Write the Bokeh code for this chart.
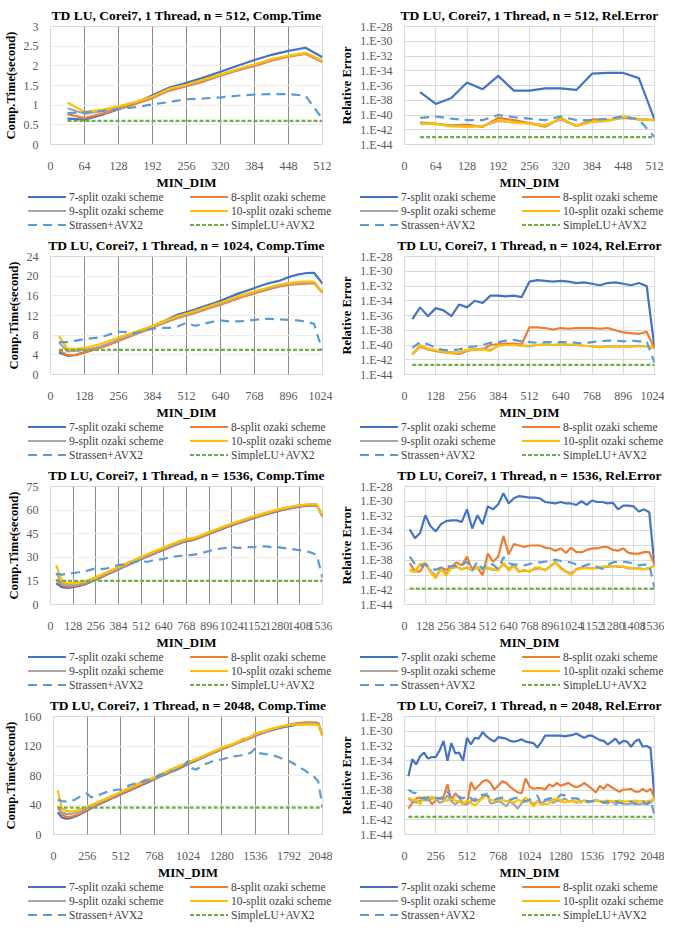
import numpy as np
from bokeh.plotting import figure
from bokeh.layouts import column, row
from bokeh.models import Range1d, SingleIntervalTicker, FixedTicker, CustomJSTickFormatter, Div
from bokeh.embed import file_html
from bokeh.resources import INLINE

FONT = "Liberation Serif"
LABELS = ["7-split ozaki scheme", "8-split ozaki scheme", "9-split ozaki scheme",
          "10-split ozaki scheme", "Strassen+AVX2", "SimpleLU+AVX2"]
COLORS = ["#4472C4", "#ED7D31", "#A5A5A5", "#FFC000", "#5B9BD5", "#70AD47"]
DASHES = ["solid", "solid", "solid", "solid", "9 6", "4 2"]

# ---------------- n = 512 ----------------
X512 = list(range(32, 513, 32))
T512_7 = [0.66, 0.63, 0.75, 0.90, 1.05, 1.25, 1.45, 1.57, 1.70, 1.85, 2.00, 2.15, 2.28, 2.38, 2.46, 2.22]
T512_8 = [0.77, 0.67, 0.78, 0.90, 1.03, 1.18, 1.37, 1.48, 1.60, 1.75, 1.88, 2.00, 2.13, 2.23, 2.30, 2.10]
T512_9 = [0.92, 0.78, 0.85, 0.95, 1.07, 1.20, 1.40, 1.50, 1.63, 1.77, 1.90, 2.02, 2.15, 2.25, 2.32, 2.12]
T512_10 = [1.07, 0.83, 0.88, 0.97, 1.08, 1.22, 1.42, 1.52, 1.65, 1.78, 1.92, 2.04, 2.17, 2.26, 2.33, 2.13]
T512_S = [0.80, 0.82, 0.85, 0.90, 0.95, 1.02, 1.08, 1.15, 1.17, 1.20, 1.24, 1.27, 1.28, 1.28, 1.24, 0.65]
T512_L = [0.60] * len(X512)

# relative error, as exponent of 10
E512_7 = [-36.9, -38.5, -37.7, -35.6, -36.5, -34.7, -36.7, -36.7, -36.4, -36.4, -36.6, -34.4, -34.3, -34.3, -35.0, -40.6]
E512_8 = [-41.0, -41.2, -41.4, -41.3, -41.6, -40.4, -40.7, -41.1, -41.6, -40.4, -41.5, -40.6, -40.7, -40.4, -40.6, -40.7]
E512_9 = [-41.1, -41.2, -41.5, -41.5, -41.5, -40.8, -41.0, -41.1, -41.4, -40.6, -41.5, -40.9, -40.8, -40.3, -40.6, -40.7]
E512_10 = [-41.2, -41.2, -41.5, -41.6, -41.5, -40.7, -41.0, -41.2, -41.4, -40.5, -41.5, -40.9, -40.8, -40.2, -40.6, -40.7]
E512_S = [-40.4, -40.2, -40.5, -40.7, -40.7, -40.0, -40.3, -40.5, -40.7, -40.2, -40.7, -40.7, -40.5, -40.2, -40.6, -43.0]
E512_L = [-43.0] * len(X512)

# ---------------- n = 1024 ----------------
X1024 = list(range(32, 1025, 32))
T1024_7 = [4.5, 3.8, 4.0, 4.5, 5.0, 5.6, 6.3, 7.0, 7.7, 8.4, 9.1, 9.8, 10.6, 11.4, 12.2, 12.7,
           13.2, 13.8, 14.4, 15.0, 15.7, 16.4, 17.0, 17.6, 18.2, 18.7, 19.1, 19.8, 20.3, 20.6, 20.7, 18.5]
T1024_8 = [4.9, 3.9, 4.0, 4.5, 5.0, 5.5, 6.1, 6.8, 7.5, 8.2, 8.8, 9.5, 10.2, 10.9, 11.5, 12.0,
           12.5, 13.1, 13.7, 14.2, 14.8, 15.4, 16.0, 16.5, 17.0, 17.5, 17.9, 18.2, 18.4, 18.5, 18.6, 16.6]
T1024_9 = [6.5, 4.7, 4.8, 5.0, 5.3, 5.8, 6.4, 7.0, 7.7, 8.4, 9.0, 9.7, 10.4, 11.1, 11.7, 12.2,
           12.7, 13.3, 13.9, 14.4, 15.0, 15.6, 16.2, 16.7, 17.2, 17.7, 18.1, 18.4, 18.6, 18.7, 18.8, 16.7]
T1024_10 = [7.8, 5.2, 5.2, 5.4, 5.8, 6.3, 6.9, 7.5, 8.1, 8.7, 9.3, 9.9, 10.6, 11.3, 11.9, 12.4,
            12.9, 13.5, 14.1, 14.6, 15.2, 15.8, 16.4, 16.9, 17.4, 17.9, 18.3, 18.6, 18.8, 18.9, 18.9, 16.8]
T1024_S = [6.6, 6.6, 6.9, 7.2, 7.4, 7.6, 8.2, 8.7, 8.6, 8.4, 8.9, 9.3, 9.5, 9.5, 9.8, 10.5,
           9.9, 10.3, 10.7, 11.0, 10.8, 10.8, 10.9, 11.1, 11.3, 11.3, 11.2, 11.1, 11.0, 10.8, 10.3, 4.8]
T1024_L = [5.0] * len(X1024)

E1024_7 = [-36.5, -34.9, -36.1, -35.0, -35.3, -36.1, -34.5, -34.9, -34.0, -34.3, -33.3, -33.3, -33.4, -33.3, -33.5, -31.4,
           -31.2, -31.3, -31.4, -31.3, -31.4, -31.6, -31.5, -31.7, -31.9, -31.6, -31.5, -31.7, -31.9, -31.6, -32.0, -40.4]
E1024_8 = [-41.3, -40.2, -40.6, -40.8, -41.0, -41.1, -41.2, -40.8, -40.6, -40.6, -40.0, -39.9, -39.8, -39.8, -39.9, -37.6,
           -37.6, -37.7, -37.9, -37.7, -37.8, -37.7, -37.7, -37.7, -37.8, -37.7, -38.0, -38.3, -38.4, -38.5, -38.2, -40.5]
E1024_9 = [-41.2, -40.1, -40.5, -40.8, -40.9, -41.0, -41.0, -40.7, -40.6, -40.5, -40.7, -40.1, -40.0, -40.0, -40.1, -40.2,
           -40.0, -39.9, -40.0, -39.9, -40.0, -40.0, -40.1, -40.2, -40.3, -40.2, -40.2, -40.2, -40.2, -40.1, -40.2, -40.4]
E1024_10 = [-41.3, -40.0, -40.5, -40.7, -40.9, -41.1, -41.0, -40.7, -40.6, -40.6, -40.8, -40.1, -40.0, -40.0, -40.1, -40.1,
            -40.0, -39.9, -40.0, -39.9, -39.9, -40.0, -40.1, -40.2, -40.3, -40.2, -40.2, -40.2, -40.2, -40.2, -40.2, -40.4]
E1024_S = [-40.4, -39.6, -39.9, -40.4, -40.7, -40.7, -40.6, -40.3, -40.2, -40.0, -39.7, -39.6, -39.4, -39.3, -39.5, -39.6,
           -39.7, -39.6, -39.6, -39.6, -39.6, -39.7, -39.8, -39.6, -39.5, -39.4, -39.4, -39.5, -39.4, -39.5, -39.5, -42.4]
E1024_L = [-42.7] * len(X1024)

# ---------------- n = 1536 ----------------
X1536 = list(range(32, 1537, 32))
T1536_7 = [13.5, 11.0, 10.6, 11.0, 11.8, 12.8, 14.2, 15.8, 17.4, 19.0, 20.6, 22.3, 24.0, 25.6, 27.2, 28.8,
           30.3, 31.8, 33.3, 34.8, 36.3, 37.7, 39.1, 40.2, 40.8, 42.0, 43.4, 44.8, 46.2, 47.6, 49.0, 50.3,
           51.5, 52.7, 53.9, 55.0, 56.1, 57.2, 58.2, 59.2, 60.1, 60.9, 61.6, 62.2, 62.6, 62.9, 63.0, 56.0]
T1536_8 = [16.0, 12.2, 11.3, 11.6, 12.3, 13.3, 14.6, 16.2, 17.8, 19.4, 21.0, 22.6, 24.3, 25.9, 27.5, 29.1,
           30.6, 32.1, 33.6, 35.1, 36.6, 38.0, 39.4, 40.5, 41.1, 42.3, 43.7, 45.1, 46.5, 47.9, 49.3, 50.6,
           51.8, 53.0, 54.2, 55.3, 56.4, 57.5, 58.5, 59.5, 60.4, 61.2, 61.9, 62.5, 62.9, 63.2, 63.3, 56.3]
T1536_9 = [20.0, 13.5, 12.3, 12.4, 13.0, 13.9, 15.2, 16.7, 18.3, 19.9, 21.5, 23.1, 24.8, 26.4, 28.0, 29.6,
           31.1, 32.6, 34.1, 35.6, 37.1, 38.5, 39.9, 41.0, 41.6, 42.8, 44.2, 45.6, 47.0, 48.4, 49.8, 51.1,
           52.3, 53.5, 54.7, 55.8, 56.9, 58.0, 59.0, 60.0, 60.9, 61.7, 62.4, 63.0, 63.4, 63.6, 63.6, 56.5]
T1536_10 = [25.0, 15.2, 13.5, 13.5, 14.0, 14.8, 16.0, 17.4, 19.0, 20.6, 22.2, 23.8, 25.5, 27.1, 28.7, 30.3,
            31.8, 33.3, 34.8, 36.3, 37.8, 39.2, 40.6, 41.6, 42.0, 43.2, 44.6, 46.0, 47.4, 48.8, 50.2, 51.5,
            52.7, 53.9, 55.1, 56.2, 57.3, 58.3, 59.3, 60.3, 61.1, 61.9, 62.6, 63.1, 63.5, 63.7, 63.7, 56.7]
T1536_S = [19.5, 19.0, 19.5, 20.0, 20.5, 21.0, 22.0, 23.0, 22.5, 23.0, 24.0, 25.0, 25.5, 26.0, 27.0, 28.0,
           27.0, 28.0, 28.5, 29.0, 30.0, 30.5, 31.0, 31.0, 31.5, 32.0, 33.0, 34.0, 35.0, 35.5, 36.0, 36.5,
           36.0, 36.0, 36.5, 36.5, 37.0, 37.0, 36.5, 36.5, 36.0, 35.5, 35.0, 34.5, 34.0, 33.0, 31.5, 17.0]
T1536_L = [15.0] * len(X1536)

E1536_7 = [-33.8, -35.0, -34.3, -31.9, -33.4, -34.1, -33.1, -32.7, -32.6, -32.6, -32.8, -31.1, -33.7, -31.9, -33.1, -30.7,
           -31.1, -30.4, -28.9, -30.3, -29.6, -29.3, -29.4, -29.5, -29.5, -29.6, -30.1, -30.2, -30.3, -30.1, -30.3, -30.3,
           -30.5, -30.0, -30.5, -29.9, -30.1, -30.1, -30.3, -30.2, -31.1, -30.6, -30.6, -30.7, -31.4, -31.1, -31.5, -38.7]
E1536_8 = [-38.4, -39.5, -39.5, -38.4, -39.6, -40.4, -39.0, -39.3, -38.9, -38.3, -38.7, -37.5, -39.3, -39.0, -40.0, -37.1,
           -38.2, -37.5, -34.7, -37.2, -35.8, -36.0, -36.2, -36.0, -36.0, -36.0, -36.3, -36.4, -36.7, -36.4, -37.0, -36.3,
           -36.9, -36.9, -36.6, -36.4, -36.4, -36.2, -36.2, -36.6, -36.7, -36.4, -37.0, -37.1, -37.1, -36.9, -36.9, -38.6]
E1536_9 = [-39.3, -39.5, -38.6, -38.5, -39.4, -40.2, -39.1, -39.8, -39.1, -38.9, -39.2, -39.0, -39.4, -38.9, -39.2, -39.1,
           -39.3, -39.2, -38.5, -39.2, -38.6, -39.5, -39.4, -39.5, -39.2, -39.1, -39.3, -38.8, -38.2, -39.0, -39.5, -39.8,
           -39.2, -39.0, -39.0, -39.1, -39.0, -38.9, -38.9, -38.8, -38.9, -38.9, -39.1, -39.1, -39.1, -39.2, -39.1, -38.7]
E1536_10 = [-39.4, -39.6, -38.5, -38.4, -39.6, -40.4, -39.2, -40.1, -39.0, -38.8, -39.3, -38.9, -39.3, -39.0, -39.1, -39.0,
            -39.2, -39.4, -38.3, -39.4, -38.8, -39.6, -39.3, -39.6, -39.0, -39.0, -39.4, -38.9, -38.3, -39.2, -39.6, -40.0,
            -39.3, -39.1, -39.1, -39.1, -39.1, -38.9, -38.8, -38.8, -38.8, -38.9, -39.0, -39.1, -39.2, -39.2, -39.1, -38.7]
E1536_S = [-37.5, -38.5, -38.8, -38.5, -39.1, -39.3, -39.0, -38.9, -38.8, -38.8, -38.7, -38.2, -39.3, -38.2, -39.2, -38.4,
           -38.6, -39.2, -37.6, -38.4, -38.6, -38.6, -38.7, -38.5, -38.4, -38.3, -38.2, -38.1, -37.9, -38.1, -38.2, -38.3,
           -38.6, -38.9, -38.6, -38.5, -38.9, -39.2, -38.6, -38.3, -38.2, -38.2, -38.3, -38.5, -38.7, -38.6, -38.6, -41.8]
E1536_L = [-41.85] * len(X1536)

# ---------------- n = 2048 ----------------
X2048 = list(range(32, 2049, 32))
T2048_7 = [30.0, 23.0, 21.5, 22.0, 24.0, 26.5, 29.5, 32.5, 35.5, 38.5, 41.5, 44.0, 46.5, 49.0, 51.5, 54.5,
           57.0, 59.5, 62.0, 64.5, 67.0, 69.5, 72.0, 75.0, 77.5, 80.0, 82.5, 85.0, 87.5, 90.0, 92.5, 95.5,
           98.0, 100.5, 103.0, 105.5, 108.0, 110.5, 113.0, 115.5, 118.0, 120.0, 122.5, 125.0, 127.0, 129.5, 131.5, 134.0,
           136.0, 138.0, 140.0, 141.5, 143.0, 144.5, 146.0, 147.0, 148.0, 149.0, 149.5, 150.0, 150.0, 150.0, 150.0, 134.0]
T2048_8 = [37.0, 27.0, 24.0, 24.0, 25.5, 27.5, 30.5, 33.5, 36.5, 39.5, 42.5, 45.0, 47.5, 50.0, 52.5, 55.5,
           58.0, 60.5, 63.0, 65.5, 68.0, 70.5, 73.0, 76.0, 78.5, 81.0, 83.5, 86.0, 88.5, 91.0, 93.5, 96.5,
           99.0, 101.0, 103.5, 106.0, 108.5, 111.0, 113.0, 115.5, 117.5, 120.0, 122.0, 124.5, 127.0, 129.0, 131.0, 133.5,
           136.0, 138.0, 140.0, 142.0, 144.0, 145.5, 147.0, 148.5, 150.0, 151.0, 151.5, 152.0, 152.0, 152.0, 151.5, 135.0]
T2048_9 = [38.0, 30.0, 28.0, 28.0, 29.0, 30.5, 32.5, 35.0, 38.0, 41.0, 44.0, 46.5, 49.0, 51.5, 54.0, 57.5,
           60.5, 63.0, 65.5, 68.0, 72.0, 74.5, 74.5, 76.0, 79.5, 82.5, 85.5, 88.0, 90.5, 93.0, 95.5, 99.0,
           100.0, 102.0, 104.0, 106.5, 109.0, 111.5, 114.0, 116.5, 119.0, 121.0, 123.0, 125.5, 128.0, 130.0, 132.0, 134.5,
           137.0, 139.0, 141.0, 143.0, 144.5, 146.0, 147.5, 148.5, 149.5, 150.0, 150.5, 150.5, 150.5, 150.5, 150.5, 134.0]
T2048_10 = [60.0, 35.0, 32.0, 31.5, 32.0, 33.5, 35.5, 37.5, 40.0, 42.5, 45.0, 47.5, 50.0, 52.5, 55.0, 57.5,
            60.0, 62.5, 65.0, 67.5, 70.0, 72.5, 75.0, 78.0, 80.5, 83.0, 85.5, 88.0, 90.5, 93.0, 95.5, 98.0,
            100.0, 102.5, 105.0, 107.5, 110.0, 112.5, 115.0, 118.0, 120.0, 121.5, 123.5, 126.0, 130.0, 130.5, 133.0, 137.0,
            138.5, 140.0, 142.0, 143.5, 145.0, 146.5, 147.5, 148.5, 149.0, 149.0, 149.0, 149.0, 149.0, 149.0, 148.5, 134.0]
T2048_S = [47.0, 45.3, 44.9, 45.3, 47.0, 50.4, 53.8, 55.6, 50.4, 51.3, 53.8, 56.4, 58.1, 59.8, 60.7, 61.1,
           63.2, 66.7, 68.4, 69.7, 71.0, 72.6, 73.9, 76.0, 80.3, 82.0, 83.8, 85.5, 86.8, 88.9, 92.3, 99.6,
           89.7, 88.0, 92.3, 95.3, 97.4, 99.6, 100.9, 101.7, 103.4, 105.1, 106.0, 106.8, 107.7, 108.5, 111.1, 116.7,
           110.3, 109.4, 108.5, 107.7, 106.0, 103.8, 101.7, 99.6, 96.6, 93.2, 89.7, 86.3, 82.0, 78.2, 71.8, 37.0]
T2048_L = [36.5] * len(X2048)

E2048_7 = [-36.1, -33.8, -34.5, -33.4, -32.9, -33.7, -33.5, -33.5, -32.6, -31.3, -34.0, -31.6, -33.0, -32.9, -34.0, -30.9,
           -31.8, -30.9, -31.0, -30.1, -30.7, -31.1, -31.4, -30.8, -30.9, -31.0, -31.3, -31.4, -31.3, -31.1, -31.4, -31.5,
           -31.6, -32.2, -31.5, -30.6, -30.6, -30.6, -30.6, -30.6, -30.7, -30.6, -30.5, -30.3, -30.6, -30.9, -30.6, -30.6,
           -30.9, -31.2, -31.3, -31.8, -31.4, -31.0, -31.7, -31.3, -31.4, -32.1, -31.4, -31.1, -32.1, -32.0, -32.3, -39.1]
E2048_8 = [-40.5, -39.7, -39.1, -39.0, -39.3, -38.9, -39.9, -39.4, -39.1, -38.9, -37.2, -39.5, -38.4, -39.0, -39.9, -39.9,
           -36.9, -37.9, -37.4, -36.8, -36.6, -37.0, -37.9, -37.4, -36.8, -37.0, -37.5, -37.9, -38.3, -38.4, -36.4, -37.5,
           -37.8, -37.7, -37.7, -37.9, -37.2, -37.5, -37.0, -37.4, -37.2, -37.0, -37.4, -37.6, -37.4, -37.0, -37.4, -37.8,
           -38.3, -37.4, -37.8, -37.2, -37.6, -37.9, -38.2, -37.9, -37.9, -37.8, -38.2, -38.2, -37.8, -38.2, -37.8, -39.1]
E2048_9 = [-39.1, -39.5, -39.7, -39.4, -39.3, -39.4, -39.1, -39.1, -39.7, -39.5, -38.7, -39.5, -39.9, -39.5, -39.7, -39.9,
           -39.5, -39.1, -39.4, -38.9, -38.4, -39.8, -39.7, -39.5, -39.7, -40.2, -39.5, -39.9, -40.5, -39.7, -39.5, -39.4,
           -39.9, -39.5, -39.8, -39.5, -39.3, -39.7, -39.4, -39.5, -39.1, -39.5, -39.4, -39.7, -39.5, -39.4, -39.7, -39.5,
           -39.3, -39.5, -39.7, -39.8, -39.5, -39.9, -39.7, -39.8, -39.9, -39.8, -39.7, -39.9, -39.8, -39.9, -39.7, -39.1]
E2048_10 = [-39.0, -39.3, -39.3, -39.9, -38.9, -39.1, -38.9, -39.1, -39.1, -39.3, -39.4, -39.1, -39.4, -39.5, -39.9, -39.4,
            -39.7, -40.1, -39.5, -39.1, -38.7, -39.3, -39.4, -39.2, -39.3, -39.5, -39.4, -39.7, -39.3, -39.5, -39.0, -39.5,
            -40.2, -39.5, -39.9, -39.9, -39.8, -39.3, -39.1, -39.4, -39.7, -39.5, -39.5, -39.5, -39.7, -39.4, -39.5, -39.5,
            -39.4, -39.5, -39.5, -39.4, -39.5, -39.5, -39.4, -39.5, -39.5, -39.5, -39.4, -39.5, -39.5, -39.5, -39.4, -39.1]
E2048_S = [-37.9, -38.3, -38.4, -39.0, -39.1, -39.1, -39.1, -39.0, -39.1, -39.1, -38.2, -39.0, -38.6, -38.9, -39.1, -38.7,
           -39.1, -39.5, -38.9, -38.6, -38.7, -39.0, -39.3, -39.1, -39.0, -39.1, -39.3, -39.1, -39.0, -39.3, -39.5, -39.3,
           -39.1, -38.7, -39.9, -39.3, -39.1, -39.1, -39.1, -38.6, -38.7, -39.0, -39.1, -39.1, -39.3, -39.4, -39.5, -39.5,
           -39.4, -39.5, -39.7, -39.5, -39.5, -39.5, -39.7, -39.8, -39.7, -39.5, -39.9, -39.7, -39.5, -39.9, -39.4, -41.3]
E2048_L = [-41.6] * len(X2048)

LOG_TICKS = [-44, -42, -40, -38, -36, -34, -32, -30, -28]

W = 332
H_CHART = 192
H_LEG = 38


def style(p, xstep, ylabel, comp):
    p.title.text_font = FONT
    p.title.text_font_size = "13.5px"
    p.title.text_font_style = "bold"
    p.title.align = "center"
    p.title.text_color = "#000000"
    p.title.standoff = 7
    xt = SingleIntervalTicker(interval=xstep)
    p.xaxis.ticker = xt
    p.xgrid.ticker = xt
    p.xaxis.formatter = CustomJSTickFormatter(code="return String(Math.round(tick*100)/100);")
    for ax in (p.xaxis, p.yaxis):
        ax.axis_line_color = None
        ax.major_tick_line_color = None
        ax.minor_tick_line_color = None
        ax.major_label_text_font = FONT
        ax.major_label_text_font_size = "12px"
        ax.major_label_text_color = "#595959"
        ax.major_label_text_line_height = 1.0
        ax.axis_label_text_font = FONT
        ax.axis_label_text_font_style = "bold"
        ax.axis_label_text_color = "#000000"
        ax.axis_label_text_line_height = 1.0
    p.xaxis.major_label_standoff = 11
    p.yaxis.major_label_standoff = 6
    p.xaxis.axis_label_standoff = 2
    p.yaxis.axis_label_standoff = 3
    p.xaxis.axis_label = "MIN_DIM"
    p.xaxis.axis_label_text_font_size = "13px"
    p.yaxis.axis_label = ylabel
    p.yaxis.axis_label_text_font_size = "12.5px"
    p.outline_line_color = "#d9d9d9"
    if comp:
        p.xgrid.grid_line_color = "#8c8c8c"
        p.ygrid.grid_line_color = "#ececec"
        p.min_border_left = 50
    else:
        p.xgrid.grid_line_color = "#d9d9d9"
        p.ygrid.grid_line_color = "#d9d9d9"
        p.min_border_left = 72
    p.min_border_right = 10
    p.min_border_bottom = 0
    p.min_border_top = 26


def legend_div():
    cells = []
    for lab, col, dash in zip(LABELS, COLORS, DASHES):
        da = "" if dash == "solid" else ' stroke-dasharray="%s"' % dash
        cells.append(
            '<div style="display:flex;align-items:center;height:14px;">'
            '<svg width="38" height="14" style="flex:none;display:block;">'
            '<line x1="0" y1="7" x2="38" y2="7" stroke="%s" stroke-width="2.2"%s/></svg>'
            '<span style="margin-left:3px;white-space:nowrap;">%s</span></div>' % (col, da, lab))
    html = ('<div style="display:grid;grid-template-columns:162px 142px;padding-left:28px;margin-top:-2px;'
            "font-family:'Liberation Serif',serif;font-size:11.5px;color:#404040;line-height:14px;\">"
            + "".join(cells) + '</div>')
    return Div(text=html, width=W, height=H_LEG, margin=(0, 0, 0, 0))


def comp_fig(n, xstep, ymax, ystep, xs, series):
    p = figure(width=W, height=H_CHART, output_backend="svg", toolbar_location=None,
               x_range=Range1d(0, n), y_range=Range1d(0, ymax),
               title="TD LU, Corei7, 1 Thread, n = %d, Comp.Time" % n)
    style(p, xstep, "Comp.Time(second)", True)
    yt = SingleIntervalTicker(interval=ystep)
    p.yaxis.ticker = yt
    p.ygrid.ticker = yt
    p.yaxis.formatter = CustomJSTickFormatter(code="return String(Math.round(tick*100)/100);")
    for ys, c, d in zip(series, COLORS, DASHES):
        p.line(xs, ys, line_color=c, line_width=2.2, line_dash=d)
    return p


def err_fig(n, xstep, xs, series):
    p = figure(width=W, height=H_CHART, output_backend="svg", toolbar_location=None,
               x_range=Range1d(0, n), y_range=Range1d(1e-44, 1e-28), y_axis_type="log",
               title="TD LU, Corei7, 1 Thread, n = %d, Rel.Error" % n)
    style(p, xstep, "Relative Error", False)
    yt = FixedTicker(ticks=[10.0 ** t for t in LOG_TICKS], minor_ticks=[])
    p.yaxis.ticker = yt
    p.ygrid.ticker = yt
    p.yaxis.formatter = CustomJSTickFormatter(code="return '1.E' + Math.round(Math.log10(tick));")
    for ys, c, d in zip(series, COLORS, DASHES):
        vals = 10.0 ** np.array(ys, dtype=float)
        p.line(xs, vals, line_color=c, line_width=2.2, line_dash=d)
    return p


p1 = comp_fig(512, 64, 3, 0.5, X512, [T512_7, T512_8, T512_9, T512_10, T512_S, T512_L])
p2 = err_fig(512, 64, X512, [E512_7, E512_8, E512_9, E512_10, E512_S, E512_L])
p3 = comp_fig(1024, 128, 24, 4, X1024, [T1024_7, T1024_8, T1024_9, T1024_10, T1024_S, T1024_L])
p4 = err_fig(1024, 128, X1024, [E1024_7, E1024_8, E1024_9, E1024_10, E1024_S, E1024_L])
p5 = comp_fig(1536, 128, 75, 15, X1536, [T1536_7, T1536_8, T1536_9, T1536_10, T1536_S, T1536_L])
p6 = err_fig(1536, 128, X1536, [E1536_7, E1536_8, E1536_9, E1536_10, E1536_S, E1536_L])
p7 = comp_fig(2048, 256, 160, 40, X2048, [T2048_7, T2048_8, T2048_9, T2048_10, T2048_S, T2048_L])
p8 = err_fig(2048, 256, X2048, [E2048_7, E2048_8, E2048_9, E2048_10, E2048_S, E2048_L])

panels = []
for a, b in [(p1, p2), (p3, p4), (p5, p6), (p7, p8)]:
    panels.append(row(column(a, legend_div()), column(b, legend_div())))

page = column(*panels)

open("out.html", "w").write(file_html(page, INLINE))
